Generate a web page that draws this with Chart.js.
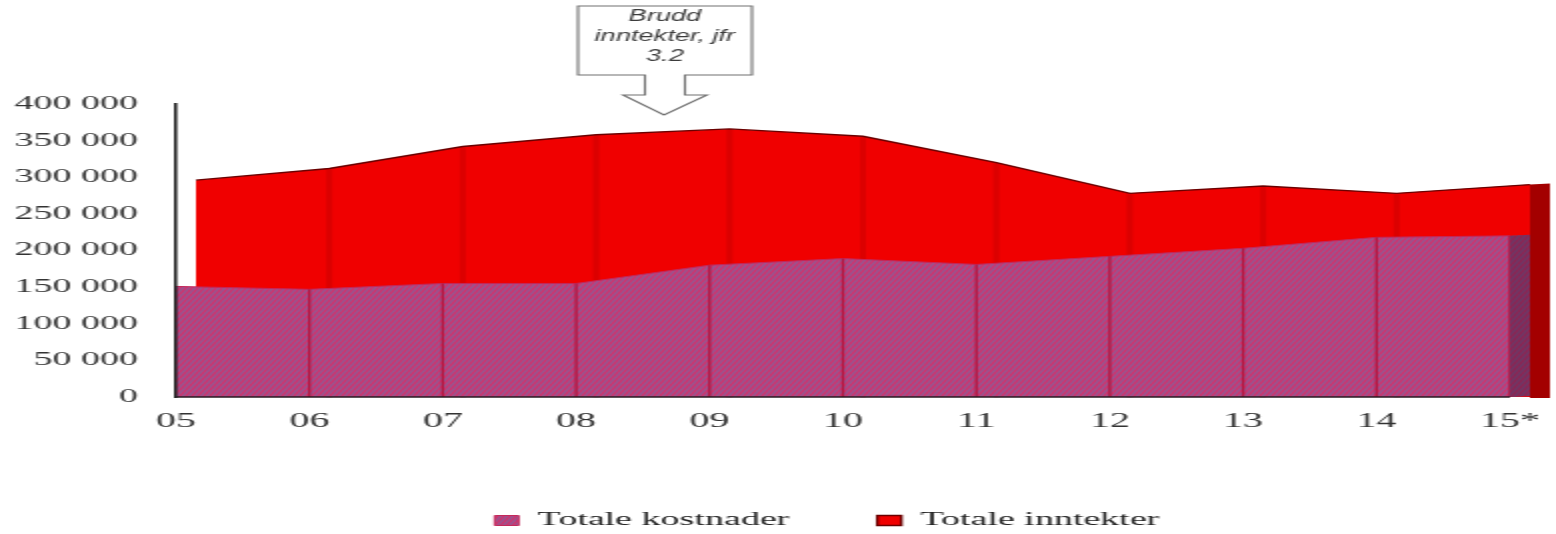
<!DOCTYPE html>
<html>
<head>
<meta charset="utf-8">
<script src="https://cdn.jsdelivr.net/npm/chart.js@4.4.0/dist/chart.umd.min.js"></script>
<style>
  html, body { margin: 0; padding: 0; background: #fff; overflow: hidden; }
  canvas { display: block; }
</style>
</head>
<body>
<!-- drawn at half width and stretched, like the source picture -->
<canvas id="areaChart" width="778" height="534" style="width:1556px;height:534px"></canvas>
<script>
// ===== DATA =====
const years = ["05", "06", "07", "08", "09", "10", "11", "12", "13", "14", "15*"];
const totaleKostnader = [151000, 147000, 155000, 155000, 180000, 189000, 181000, 192000, 203000, 218000, 220000];
const totaleInntekter = [296000, 312000, 342000, 358000, 366000, 356000, 320000, 278000, 288000, 278000, 290000];
const yMax = 400000;
const yStep = 50000;
const noteLines = ["Brudd", "inntekter, jfr", "3.2"];

// back series is pushed right by this much (category units) for the 3d look
const DEPTH = 0.15;
// room to the right of the last year for the side faces
const X_MAX = years.length - 1 + 0.3;

// ===== HATCH PATTERN =====
function makeHatch() {
  const c = document.createElement("canvas");
  c.width = 3;
  c.height = 6;
  const g = c.getContext("2d");
  g.fillStyle = "#985690";
  g.fillRect(0, 0, 3, 6);
  g.strokeStyle = "#d6306a";
  g.lineWidth = 1.2;
  g.beginPath();
  for (let k = -1; k <= 1; k++) {
    g.moveTo(k * 3, 6);
    g.lineTo(k * 3 + 3, 0);
  }
  g.stroke();
  return g.createPattern(c, "repeat");
}
const hatch = makeHatch();

function spaced(v) {
  return String(v).replace(/\B(?=(\d{3})+(?!\d))/g, " ");
}

// ===== 3D FOLDS AND SIDE FACES =====
const folds = {
  id: "folds",
  afterLayout(chart) {
    // legend sits a bit left of the plot centre in the source
    chart.legend.left -= 18;
    chart.legend.right -= 18;
  },
  afterDatasetDraw(chart, args) {
    const ctx = chart.ctx;
    const pts = args.meta.data;
    const base = chart.scales.y.getPixelForValue(0);
    const dx = chart.scales.x2.getPixelForValue(1) - chart.scales.x.getPixelForValue(1);
    const last = pts[pts.length - 1];
    ctx.save();
    if (args.index === 1) {
      ctx.fillStyle = "rgba(110,0,0,0.15)";
      for (let i = 1; i < pts.length - 1; i++) {
        ctx.fillRect(pts[i].x - 1.5, pts[i].y + 1, 3, base - pts[i].y);
      }
      ctx.fillStyle = "#a30000";
      ctx.beginPath();
      ctx.moveTo(last.x, last.y);
      ctx.lineTo(last.x + dx, last.y - 1);
      ctx.lineTo(last.x + dx, base + 1);
      ctx.lineTo(last.x, base + 1);
      ctx.closePath();
      ctx.fill();
    } else {
      ctx.strokeStyle = "#b3163f";
      ctx.lineWidth = 1.3;
      ctx.beginPath();
      for (let i = 1; i < pts.length; i++) {
        ctx.moveTo(pts[i].x, pts[i].y);
        ctx.lineTo(pts[i].x, base);
      }
      ctx.stroke();
      ctx.beginPath();
      ctx.moveTo(last.x, last.y);
      ctx.lineTo(last.x + dx, last.y - 1);
      ctx.lineTo(last.x + dx, base - 1);
      ctx.lineTo(last.x, base);
      ctx.closePath();
      ctx.fillStyle = hatch;
      ctx.fill();
      ctx.fillStyle = "rgba(60,20,50,0.45)";
      ctx.fill();
      // base line under the front area
      ctx.strokeStyle = "#2a1a22";
      ctx.lineWidth = 1.5;
      ctx.beginPath();
      ctx.moveTo(chart.chartArea.left, base);
      ctx.lineTo(last.x, base);
      ctx.stroke();
    }
    ctx.restore();
  }
};

// ===== CALLOUT BOX =====
const note = {
  id: "note",
  afterDraw(chart) {
    const ctx = chart.ctx;
    const l = 289, r = 376, t = 6, b = 75;
    const sl = 322.5, sr = 342.5, sb = 95;
    const hl = 311.5, hr = 353.5, tipX = 332, tipY = 115;
    ctx.save();
    ctx.beginPath();
    ctx.moveTo(l, t);
    ctx.lineTo(r, t);
    ctx.lineTo(r, b);
    ctx.lineTo(sr, b);
    ctx.lineTo(sr, sb);
    ctx.lineTo(hr, sb);
    ctx.lineTo(tipX, tipY);
    ctx.lineTo(hl, sb);
    ctx.lineTo(sl, sb);
    ctx.lineTo(sl, b);
    ctx.lineTo(l, b);
    ctx.closePath();
    ctx.fillStyle = "#fff";
    ctx.fill();
    ctx.strokeStyle = "#707070";
    ctx.lineWidth = 1.1;
    ctx.stroke();

    ctx.fillStyle = "#3c3c3c";
    ctx.font = "italic 17px 'Liberation Sans', Arial, sans-serif";
    ctx.textAlign = "center";
    ctx.textBaseline = "middle";
    const cx = (l + r) / 2;
    const ys = [16, 36, 56];
    noteLines.forEach((txt, i) => {
      ctx.save();
      ctx.translate(cx, ys[i]);
      ctx.scale(0.8, 1);
      ctx.fillText(txt, 0, 0);
      ctx.restore();
    });
    ctx.restore();
  }
};

// ===== CHART =====
const ctx = document.getElementById("areaChart").getContext("2d");
const serif = "'Liberation Serif', 'Times New Roman', serif";

new Chart(ctx, {
  type: "line",
  data: {
    datasets: [
      {
        label: "Totale kostnader",
        data: totaleKostnader.map((v, i) => ({ x: i, y: v })),
        backgroundColor: hatch,
        borderColor: "#c4285a",
        borderWidth: 1,
        fill: "origin",
        pointRadius: 0,
        tension: 0,
        order: 0
      },
      {
        label: "Totale inntekter",
        data: totaleInntekter.map((v, i) => ({ x: i, y: v })),
        xAxisID: "x2",
        backgroundColor: "#f00000",
        borderColor: "#6a0000",
        borderWidth: 1.4,
        fill: "origin",
        pointRadius: 0,
        tension: 0,
        order: 1
      }
    ]
  },
  options: {
    responsive: false,
    devicePixelRatio: 1,
    animation: false,
    events: [],
    layout: { padding: { top: 104, left: 0, right: 3, bottom: -6 } },
    scales: {
      x: {
        type: "linear",
        min: 0,
        max: X_MAX,
        grid: { display: false, drawTicks: false },
        border: { display: false },
        ticks: {
          stepSize: 1,
          includeBounds: false,
          color: "#333",
          font: { family: serif, size: 20 },
          padding: 13,
          maxRotation: 0,
          autoSkip: false,
          callback: v => years[v]
        },
        afterFit(scale) {
          scale.height = 70;
          scale.paddingLeft = 0;
          scale.paddingRight = 0;
        }
      },
      x2: {
        type: "linear",
        display: false,
        min: -DEPTH,
        max: X_MAX - DEPTH
      },
      y: {
        min: 0,
        max: yMax,
        grid: { display: false, drawTicks: false },
        border: { display: true, color: "#222", width: 1.6, z: 1 },
        ticks: {
          stepSize: yStep,
          color: "#333",
          font: { family: serif, size: 19 },
          padding: 19,
          callback: v => spaced(v)
        },
        afterFit(scale) { scale.width = 88; }
      }
    },
    plugins: {
      legend: {
        position: "bottom",
        fullSize: false,
        labels: {
          color: "#222",
          font: { family: serif, size: 19 },
          boxWidth: 12,
          boxHeight: 10,
          padding: 44
        }
      },
      tooltip: { enabled: false }
    }
  },
  plugins: [folds, note]
});
</script>
</body>
</html>
